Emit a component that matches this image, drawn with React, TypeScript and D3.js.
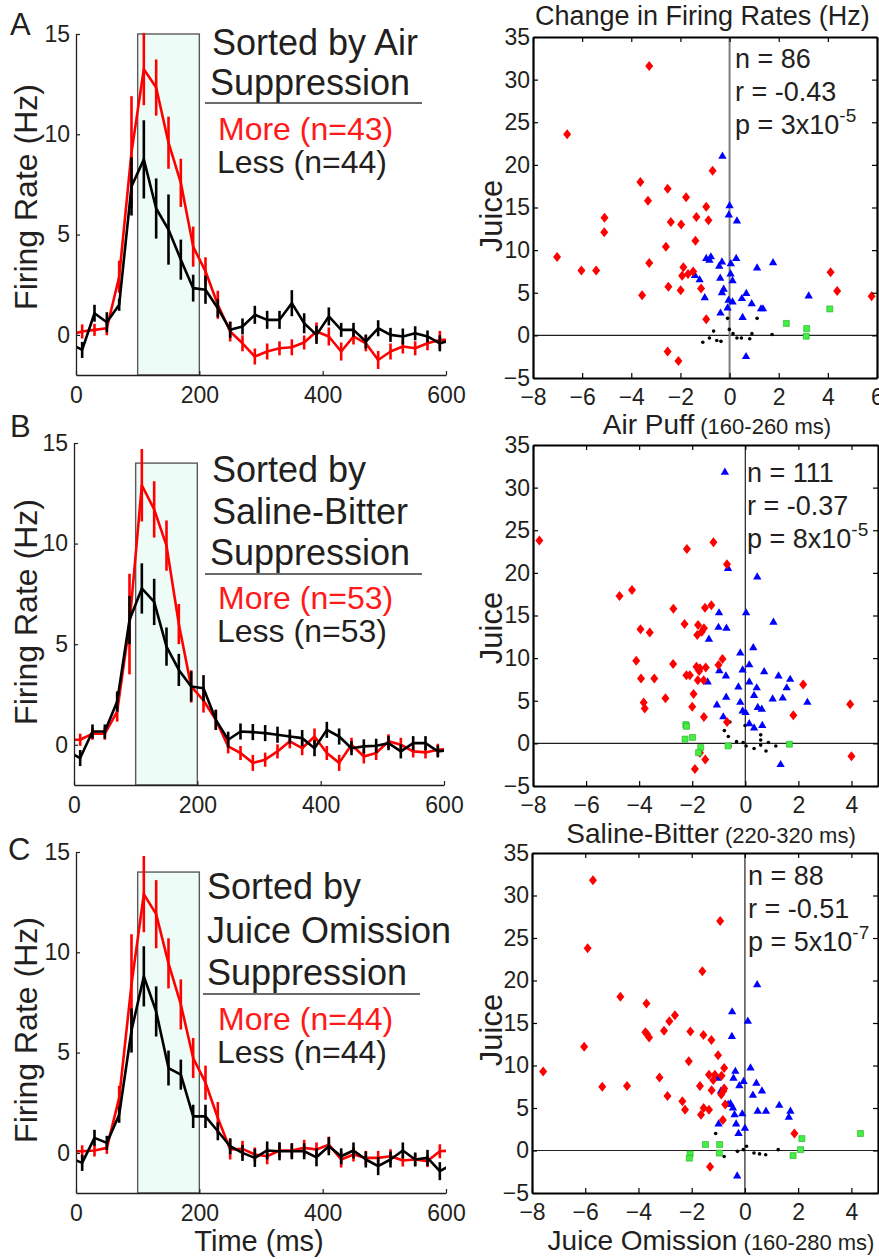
import React, { useEffect, useRef } from "react";
import * as d3 from "d3";

// time bin centres (ms); first and last fall just outside the axis and get clipped
const timeBins = [-10, 10, 30, 50, 70, 90, 110, 130, 150, 170, 190, 210, 230, 250, 270, 290, 310, 330, 350, 370, 390, 410, 430, 450, 470, 490, 510, 530, 550, 570, 590, 610];
const timeTicks = [0, 200, 400, 600];
const rateTicks = [0, 5, 10, 15];

// A: sorted by air puff suppression
const airMore = [0, 0.17, 0.25, 0.33, 2.9, 9.1, 13.25, 12.33, 9.58, 7.58, 4.4, 3.17, 1.5, 0.17, -0.42, -1.08, -0.83, -0.67, -0.62, -0.38, 0.17, -0.08, -0.83, -0.08, -0.42, -1.25, -0.83, -0.58, -0.67, -0.42, -0.25, -0.25];
const airMoreErr = [0, 0.35, 0.3, 0.35, 0.8, 2.8, 1.8, 1.4, 1.3, 1.2, 1.0, 0.7, 0.7, 0.5, 0.4, 0.4, 0.4, 0.35, 0.4, 0.35, 0.45, 0.45, 0.45, 0.4, 0.4, 0.45, 0.4, 0.35, 0.35, 0.35, 0.45, 0];
const airLess = [-0.42, -0.75, 1.08, 0.63, 1.5, 7.4, 8.75, 6.3, 5.25, 3.75, 2.33, 2.25, 1.33, 0.25, 0.42, 1.0, 0.75, 0.75, 1.58, 0.58, 0, 0.92, 0.25, 0.25, -0.33, 0.33, 0, -0.08, 0.08, -0.08, -0.42, -0.25];
const airLessErr = [0, 0.4, 0.42, 0.5, 0.3, 1.45, 1.95, 1.5, 1.75, 1.0, 0.67, 0.7, 0.45, 0.4, 0.4, 0.45, 0.45, 0.45, 0.65, 0.5, 0.45, 0.45, 0.35, 0.35, 0.35, 0.4, 0.35, 0.4, 0.35, 0.3, 0.4, 0];

// B: sorted by saline-bitter suppression
const bitterMore = [0.25, 0.25, 0.55, 0.55, 1.65, 6.0, 12.9, 11.7, 9.9, 6.0, 2.9, 2.2, 1.24, -0.08, -0.41, -0.9, -0.74, -0.33, 0.17, -0.17, 0.41, -0.41, -0.9, 0, -0.58, -0.41, 0.17, 0, -0.33, -0.38, -0.25, -0.2];
const bitterMoreErr = [0, 0.3, 0.3, 0.3, 0.5, 2.5, 1.8, 1.4, 1.25, 1.0, 0.8, 0.6, 0.5, 0.35, 0.35, 0.4, 0.35, 0.35, 0.35, 0.35, 0.4, 0.35, 0.4, 0.35, 0.35, 0.35, 0.35, 0.35, 0.3, 0.3, 0.3, 0];
const bitterLess = [-0.33, -0.66, 0.66, 0.66, 2.15, 6.2, 7.77, 7.1, 4.88, 3.72, 2.9, 2.81, 1.24, 0.25, 0.66, 0.63, 0.58, 0.5, 0.41, 0.33, -0.17, 0.74, 0.41, -0.17, -0.08, -0.05, 0.08, -0.33, 0.08, 0.08, -0.33, -0.25];
const bitterLessErr = [0, 0.4, 0.35, 0.35, 0.5, 1.2, 1.25, 1.15, 0.95, 0.8, 0.75, 0.65, 0.5, 0.4, 0.4, 0.4, 0.4, 0.4, 0.35, 0.4, 0.4, 0.4, 0.4, 0.35, 0.35, 0.35, 0.35, 0.35, 0.35, 0.35, 0.3, 0];

// C: sorted by juice omission suppression
const omitMore = [0.08, 0.08, 0.12, 0.25, 2.74, 8.4, 12.9, 11.9, 9.45, 7.4, 4.73, 3.5, 1.74, 0.17, 0.2, -0.08, -0.17, 0.12, 0.12, 0.25, 0.17, 0.41, -0.33, -0.08, -0.25, -0.25, -0.17, -0.38, -0.33, -0.41, 0.08, 0.12];
const omitMoreErr = [0, 0.3, 0.3, 0.3, 0.6, 2.5, 1.9, 1.7, 1.25, 1.25, 1.0, 0.85, 0.8, 0.5, 0.4, 0.35, 0.4, 0.35, 0.35, 0.4, 0.35, 0.4, 0.4, 0.35, 0.35, 0.35, 0.35, 0.3, 0.3, 0.3, 0.35, 0];
const omitLess = [-0.25, -0.5, 0.75, 0.5, 1.9, 6.1, 8.8, 7.05, 4.23, 3.9, 1.82, 1.82, 1.08, 0.33, 0, -0.25, 0.12, 0.08, 0.08, 0.08, -0.22, 0.33, -0.17, 0.12, -0.33, -0.66, -0.33, 0.12, -0.33, -0.25, -0.91, -0.58];
const omitLessErr = [0, 0.4, 0.4, 0.35, 0.4, 1.1, 1.5, 1.25, 0.87, 0.75, 0.58, 0.58, 0.45, 0.4, 0.4, 0.45, 0.45, 0.45, 0.4, 0.4, 0.45, 0.45, 0.4, 0.4, 0.4, 0.45, 0.4, 0.4, 0.35, 0.4, 0.45, 0];

// scatter: [change for aversive stimulus, change for juice]
const juiceTicks = [-5, 0, 5, 10, 15, 20, 25, 30, 35];
const airTicks = [-8, -6, -4, -2, 0, 2, 4, 6];
const bitterTicks = [-8, -6, -4, -2, 0, 2, 4];

const airRed = [[-3.27, 31.6], [-6.61, 23.6], [-0.69, 19.3], [-3.63, 18.0], [-2.52, 17.2], [-3.32, 15.8], [-1.77, 16.2], [-0.95, 15.1], [-5.09, 13.8], [-2.39, 13.3], [-1.35, 13.9], [-0.86, 13.5], [-1.97, 13.0], [-5.1, 12.1], [-1.39, 11.1], [-2.59, 10.4], [-7.02, 9.2], [-3.27, 8.5], [-1.88, 8.0], [-1.93, 7.0], [-1.69, 7.2], [-1.48, 7.5], [-6.03, 7.6], [-5.43, 7.6], [-2.49, 5.7], [-1.99, 5.3], [-1.16, 5.5], [-3.56, 4.7], [-0.95, 1.9], [-2.52, -1.9], [-2.08, -3.0], [4.11, 7.4], [4.38, 5.2], [5.78, 4.6]];
const airBlue = [[-0.29, 21.0], [0.0, 15.2], [-0.03, 14.1], [0.3, 13.4], [-0.95, 9.0], [-0.76, 9.2], [-0.82, 8.8], [-0.31, 8.6], [-0.42, 8.1], [0.05, 8.4], [0.27, 9.0], [1.12, 7.9], [1.77, 8.5], [0.04, 7.2], [-1.41, 7.0], [-1.22, 6.5], [-0.38, 6.7], [0.12, 6.4], [-0.24, 5.4], [-0.31, 5.0], [-1.01, 4.4], [0.68, 4.9], [0.5, 4.3], [-0.04, 4.1], [0.12, 3.9], [0.9, 3.7], [1.36, 3.1], [1.28, 3.1], [-0.37, 2.6], [-0.08, 3.2], [0.53, 2.1], [3.22, 4.6], [0.67, -2.5]];
const airBlack = [[-0.08, 2.0], [1.12, 2.0], [-0.65, 0.5], [-0.01, 0.7], [0.14, 0.2], [-1.09, -0.8], [-0.82, -0.3], [-0.52, -0.6], [-0.35, -0.7], [0.3, -0.3], [0.48, -0.3], [0.82, -0.4], [0.91, 0.2], [1.73, 0.1]];
const airGreen = [[2.31, 1.4], [3.14, 0.8], [3.12, -0.1], [4.08, 3.1]];

const bitterRed = [[-7.76, 23.8], [-2.2, 22.8], [-1.2, 23.6], [-0.69, 21.0], [-4.74, 17.3], [-4.27, 18.0], [-2.71, 15.8], [-1.52, 15.9], [-1.28, 16.2], [-2.29, 14.0], [-1.78, 13.9], [-1.56, 13.5], [-1.64, 13.1], [-1.81, 12.7], [-3.95, 13.4], [-3.6, 13.0], [-4.11, 9.7], [-2.72, 9.3], [-0.86, 9.9], [-1.01, 9.2], [-1.84, 9.0], [-1.71, 8.8], [-1.49, 8.9], [-1.74, 8.5], [-2.22, 8.0], [-2.09, 8.0], [-1.57, 7.4], [-1.79, 7.4], [-3.93, 7.6], [-3.43, 7.6], [-3.01, 5.3], [-1.95, 5.8], [-2.0, 4.3], [-3.83, 4.8], [-3.79, 4.1], [-1.56, 3.1], [-0.69, 2.5], [-1.71, -1.1], [-1.51, -1.9], [-1.9, -3.0], [1.81, 3.3], [2.18, 6.9], [3.95, 4.6], [4.0, -1.5]];
const bitterBlue = [[-0.77, 31.8], [-0.65, 20.5], [0.45, 19.5], [0.03, 15.3], [1.06, 14.2], [-0.99, 15.3], [-1.01, 13.6], [-0.71, 13.5], [-1.37, 12.2], [0.3, 11.2], [-0.19, 10.6], [0.15, 9.2], [-0.1, 8.6], [-0.98, 8.5], [0.71, 8.4], [-0.73, 7.9], [1.25, 7.9], [1.69, 7.5], [0.15, 7.2], [-0.26, 6.6], [0.43, 6.5], [1.56, 6.5], [-1.42, 7.2], [0.33, 5.6], [-0.72, 5.4], [1.03, 5.2], [1.41, 5.3], [2.34, 4.8], [-1.07, 4.5], [-0.19, 4.8], [0.47, 4.2], [0.62, 4.0], [-0.1, 3.8], [0.01, 3.6], [-0.83, 3.1], [0.15, 2.3], [0.33, 1.8], [0.64, 2.1], [1.33, -2.5]];
const bitterBlack = [[-0.58, 2.5], [-0.79, 1.5], [-0.64, 0.8], [-0.58, -0.3], [-0.33, 0.2], [-0.08, 0.1], [-0.01, 2.1], [0.03, -0.3], [0.33, -0.6], [0.58, 1.0], [0.58, 0.4], [0.58, -0.2], [0.78, -0.9], [0.87, 0.1], [1.15, -0.3]];
const bitterGreen = [[-2.24, 2.2], [-2.22, 2.0], [-2.27, 0.5], [-1.99, 0.7], [-1.68, -0.5], [-1.76, -1.1], [-0.65, -0.3], [1.66, -0.1]];

const omitRed = [[-5.71, 31.8], [-5.91, 23.8], [-0.93, 27.0], [-1.6, 21.1], [-4.68, 18.1], [-3.7, 17.3], [-2.63, 15.9], [-2.84, 15.2], [-3.04, 14.1], [-3.74, 13.9], [-3.68, 13.7], [-3.6, 13.3], [-2.05, 14.0], [-1.56, 13.6], [-1.26, 13.0], [-6.04, 12.2], [-1.01, 11.2], [-2.11, 10.5], [-7.58, 9.3], [-0.78, 9.7], [-1.35, 8.9], [-1.13, 8.9], [-0.88, 8.8], [-3.21, 8.6], [-1.19, 8.3], [-1.69, 7.6], [-0.78, 7.3], [-1.25, 7.1], [-0.81, 7.0], [-0.89, 6.6], [-5.36, 7.5], [-4.43, 7.6], [-2.91, 6.4], [-2.35, 5.8], [-0.74, 5.4], [-2.25, 4.8], [-1.55, 5.0], [-1.35, 4.8], [-1.65, 4.2], [-0.83, 3.6], [1.86, 2.0], [-1.31, -1.9]];
const omitBlue = [[0.46, 19.5], [-0.48, 16.3], [0.11, 15.2], [-0.49, 13.4], [-0.36, 9.3], [0.21, 9.7], [-0.43, 8.5], [-0.05, 8.1], [-0.21, 7.6], [0.43, 7.9], [0.64, 7.0], [0.3, 6.5], [-1.03, 8.5], [-0.54, 5.5], [-0.63, 5.4], [-0.45, 5.0], [1.29, 5.3], [1.71, 4.6], [0.48, 4.6], [0.79, 4.6], [-0.39, 4.2], [-0.1, 4.3], [1.65, 3.9], [-0.99, 3.1], [-0.33, 3.1], [0.0, 2.6], [-0.24, 2.0], [-0.29, -3.0], [-0.9, 7.0]];
const omitBlack = [[-1.1, 2.0], [-0.78, -0.7], [-0.28, -0.1], [-0.06, 0.1], [0.06, 0.5], [0.34, -0.3], [0.55, -0.4], [0.78, -0.5], [1.25, 0.1]];
const omitGreen = [[-2.06, -0.4], [-2.09, -0.9], [-1.48, 0.7], [-0.95, 0.7], [-0.96, -0.3], [1.81, -0.6], [2.09, 0.1], [2.14, 1.4], [4.34, 2.0]];

const FONT = "'Liberation Sans', Arial, Helvetica, sans-serif";
const INK = "#231f20";

const tallDiamond = {
  draw(context, size) {
    const r = Math.sqrt(size) / 2;
    context.moveTo(0, -r * 1.25);
    context.lineTo(r, 0);
    context.lineTo(0, r * 1.25);
    context.lineTo(-r, 0);
    context.closePath();
  }
};

function addText(g, x, y, str, size, color = INK, anchor = "start") {
  return g.append("text")
    .attr("x", x).attr("y", y)
    .attr("font-family", FONT).attr("font-size", size)
    .attr("fill", color).attr("text-anchor", anchor)
    .text(str);
}

function drawTimePanel(svg, p) {
  const x = d3.scaleLinear().domain([0, 600]).range(p.xr);
  const y = d3.scaleLinear().domain([-2, 15]).range(p.yr);
  const g = svg.append("g");

  const clipId = "clip-" + p.letter;
  g.append("clipPath").attr("id", clipId)
    .append("rect")
    .attr("x", x(0)).attr("y", y(15) - 20)
    .attr("width", x(600) - x(0)).attr("height", y(-2) - y(15) + 20);

  // stimulus window
  g.append("rect")
    .attr("x", x(100)).attr("y", y(p.boxTop))
    .attr("width", x(200) - x(100)).attr("height", y(-2) - y(p.boxTop))
    .attr("fill", "#eefcf7").attr("stroke", "#5a5a5a").attr("stroke-width", 1.4);

  const line = d3.line().x((d, i) => x(timeBins[i])).y(d => y(d));
  const series = [
    { vals: p.more, errs: p.moreErr, color: "#ff0000" },
    { vals: p.less, errs: p.lessErr, color: "#000000" }
  ];
  const plot = g.append("g").attr("clip-path", `url(#${clipId})`);
  series.forEach(s => {
    plot.append("path").datum(s.vals)
      .attr("d", line).attr("fill", "none")
      .attr("stroke", s.color).attr("stroke-width", 2.6)
      .attr("stroke-linejoin", "round");
    plot.selectAll(null)
      .data(s.vals.map((v, i) => ({ t: timeBins[i], v, e: s.errs[i] })).filter(d => d.e > 0))
      .enter().append("line")
      .attr("x1", d => x(d.t)).attr("x2", d => x(d.t))
      .attr("y1", d => y(d.v - d.e)).attr("y2", d => y(d.v + d.e))
      .attr("stroke", s.color).attr("stroke-width", 2.6);
  });

  // axes
  const xAxis = g.append("g")
    .attr("transform", `translate(0,${y(-2)})`)
    .call(d3.axisBottom(x).tickValues(timeTicks).tickSizeInner(-4).tickSizeOuter(0).tickPadding(12).tickFormat(d3.format("d")));
  const yAxis = g.append("g")
    .attr("transform", `translate(${x(0)},0)`)
    .call(d3.axisLeft(y).tickValues(rateTicks).tickSizeInner(-4).tickSizeOuter(0).tickPadding(6).tickFormat(d3.format("d")));
  [xAxis, yAxis].forEach(a => {
    a.select(".domain").attr("stroke", INK).attr("stroke-width", 1.3);
    a.selectAll(".tick line").attr("stroke", INK).attr("stroke-width", 1.2);
    a.selectAll(".tick text").attr("font-family", FONT).attr("font-size", 23).attr("fill", INK);
  });

  addText(g, p.letterPos[0], p.letterPos[1], p.letter, 31);
  addText(g, 0, 0, "Firing Rate (Hz)", 32, INK, "middle")
    .attr("transform", `translate(37,${p.ylabelY}) rotate(-90)`);

  // legend block
  p.title.forEach(t => addText(g, t.x, t.y, t.s, 36));
  g.append("line")
    .attr("x1", p.rule[0]).attr("x2", p.rule[1])
    .attr("y1", p.rule[2]).attr("y2", p.rule[2])
    .attr("stroke", "#3a3a3a").attr("stroke-width", 1.5);
  addText(g, 218, p.moreY, p.moreLabel, 32, "#ff1a1a");
  addText(g, 217, p.lessY, p.lessLabel, 32);
}

function drawScatter(svg, p) {
  const x = d3.scaleLinear().domain(p.xd).range(p.xr);
  const y = d3.scaleLinear().domain([-5, 35]).range(p.yr);
  const g = svg.append("g");

  // zero lines
  g.append("line")
    .attr("x1", x(p.xd[0])).attr("x2", x(p.xd[1]))
    .attr("y1", y(0)).attr("y2", y(0))
    .attr("stroke", INK).attr("stroke-width", 1.2);
  g.append("line")
    .attr("x1", x(0)).attr("x2", x(0))
    .attr("y1", y(-5)).attr("y2", y(35))
    .attr("stroke", p.vColor).attr("stroke-width", p.vWidth);

  // stats
  p.stats.forEach((s, i) => {
    const t = addText(g, p.statX, p.statY[i], s, 27);
    if (i === 2) {
      t.append("tspan").attr("dy", -12).attr("font-size", 19).text(p.sup);
    }
  });

  g.selectAll(".dot").data(p.black).enter().append("circle")
    .attr("cx", d => x(d[0])).attr("cy", d => y(d[1])).attr("r", 1.8)
    .attr("fill", "#000");
  g.selectAll(".tri").data(p.blue).enter().append("path")
    .attr("d", d3.symbol().type(d3.symbolTriangle).size(30))
    .attr("transform", d => `translate(${x(d[0])},${y(d[1])})`)
    .attr("fill", "#0000ff");
  g.selectAll(".dia").data(p.red).enter().append("path")
    .attr("d", d3.symbol().type(tallDiamond).size(64))
    .attr("transform", d => `translate(${x(d[0])},${y(d[1])})`)
    .attr("fill", "#ff0000");
  g.selectAll(".sq").data(p.green).enter().append("path")
    .attr("d", d3.symbol().type(d3.symbolSquare).size(36))
    .attr("transform", d => `translate(${x(d[0])},${y(d[1])})`)
    .attr("fill", "#44ee44").attr("stroke", "#22aa22").attr("stroke-width", 0.6);

  // frame + ticks on all four sides
  const axes = [
    g.append("g").attr("transform", `translate(0,${y(-5)})`)
      .call(d3.axisBottom(x).tickValues(p.xTicks).tickSizeInner(-5).tickSizeOuter(0).tickPadding(11)),
    g.append("g").attr("transform", `translate(0,${y(35)})`)
      .call(d3.axisTop(x).tickValues(p.xTicks).tickSizeInner(-5).tickSizeOuter(0).tickFormat(() => "")),
    g.append("g").attr("transform", `translate(${x(p.xd[0])},0)`)
      .call(d3.axisLeft(y).tickValues(juiceTicks).tickSizeInner(-5).tickSizeOuter(0).tickPadding(3)),
    g.append("g").attr("transform", `translate(${x(p.xd[1])},0)`)
      .call(d3.axisRight(y).tickValues(juiceTicks).tickSizeInner(-5).tickSizeOuter(0).tickFormat(() => ""))
  ];
  axes.forEach(a => {
    a.select(".domain").attr("stroke", "#000").attr("stroke-width", 2.2);
    a.selectAll(".tick line").attr("stroke", "#000").attr("stroke-width", 1.2);
    a.selectAll(".tick text").attr("font-family", FONT).attr("font-size", 23).attr("fill", INK);
  });

  addText(g, 0, 0, "Juice", 31, INK, "middle")
    .attr("transform", `translate(502,${p.ylabelY}) rotate(-90)`);
  const xl = addText(g, p.xlabelX, p.xlabelY, p.xlabel, 28, INK, "middle");
  xl.append("tspan").attr("font-size", 22).text(" " + p.xlabelSub);
}

export default function App() {
  const ref = useRef(null);

  useEffect(() => {
    const svg = d3.select(ref.current);
    svg.selectAll("*").remove();

    drawTimePanel(svg, {
      letter: "A", letterPos: [10, 35], xr: [76, 446], yr: [375, 34], boxTop: 15, ylabelY: 197,
      more: airMore, moreErr: airMoreErr, less: airLess, lessErr: airLessErr,
      title: [{ s: "Sorted by Air", x: 212, y: 55 }, { s: "Suppression", x: 210, y: 95 }],
      rule: [205, 422, 103], moreLabel: "More (n=43)", moreY: 140, lessLabel: "Less (n=44)", lessY: 173
    });
    drawTimePanel(svg, {
      letter: "B", letterPos: [10, 437], xr: [74, 444], yr: [785, 443], boxTop: 14, ylabelY: 612,
      more: bitterMore, moreErr: bitterMoreErr, less: bitterLess, lessErr: bitterLessErr,
      title: [{ s: "Sorted by", x: 212, y: 482 }, { s: "Saline-Bitter", x: 212, y: 524 }, { s: "Suppression", x: 210, y: 565 }],
      rule: [205, 422, 574], moreLabel: "More (n=53)", moreY: 609, lessLabel: "Less (n=53)", lessY: 642
    });
    drawTimePanel(svg, {
      letter: "C", letterPos: [8, 860], xr: [76, 446], yr: [1193, 852], boxTop: 14, ylabelY: 1030,
      more: omitMore, moreErr: omitMoreErr, less: omitLess, lessErr: omitLessErr,
      title: [{ s: "Sorted by", x: 207, y: 899 }, { s: "Juice Omission", x: 207, y: 943 }, { s: "Suppression", x: 207, y: 985 }],
      rule: [203, 420, 994], moreLabel: "More (n=44)", moreY: 1030, lessLabel: "Less (n=44)", lessY: 1063
    });
    addText(svg, 259, 1251, "Time (ms)", 29, INK, "middle");

    addText(svg, 535, 25, "Change in Firing Rates (Hz)", 27);

    drawScatter(svg, {
      xd: [-8, 6], xr: [533, 877], yr: [378, 37], xTicks: airTicks,
      red: airRed, blue: airBlue, black: airBlack, green: airGreen,
      vColor: "#7f7f7f", vWidth: 2,
      stats: ["n = 86", "r = -0.43", "p = 3x10"], sup: "-5", statX: 735, statY: [68, 101, 134],
      ylabelY: 216, xlabel: "Air Puff", xlabelSub: "(160-260 ms)", xlabelX: 717, xlabelY: 434
    });
    drawScatter(svg, {
      xd: [-8, 5], xr: [533, 878], yr: [786, 445], xTicks: bitterTicks,
      red: bitterRed, blue: bitterBlue, black: bitterBlack, green: bitterGreen,
      vColor: INK, vWidth: 1.2,
      stats: ["n = 111", "r = -0.37", "p = 8x10"], sup: "-5", statX: 747, statY: [482, 515, 548],
      ylabelY: 628, xlabel: "Saline-Bitter", xlabelSub: "(220-320 ms)", xlabelX: 711, xlabelY: 843
    });
    drawScatter(svg, {
      xd: [-8, 5], xr: [532, 878], yr: [1193, 853], xTicks: bitterTicks,
      red: omitRed, blue: omitBlue, black: omitBlack, green: omitGreen,
      vColor: INK, vWidth: 1.2,
      stats: ["n = 88", "r = -0.51", "p = 5x10"], sup: "-7", statX: 748, statY: [885, 918, 951],
      ylabelY: 1030, xlabel: "Juice Omission", xlabelSub: "(160-280 ms)", xlabelX: 711, xlabelY: 1250
    });
  }, []);

  return (
    <svg ref={ref} width={879} height={1259}
      style={{ position: "absolute", left: 0, top: 0, background: "#fff" }} />
  );
}
